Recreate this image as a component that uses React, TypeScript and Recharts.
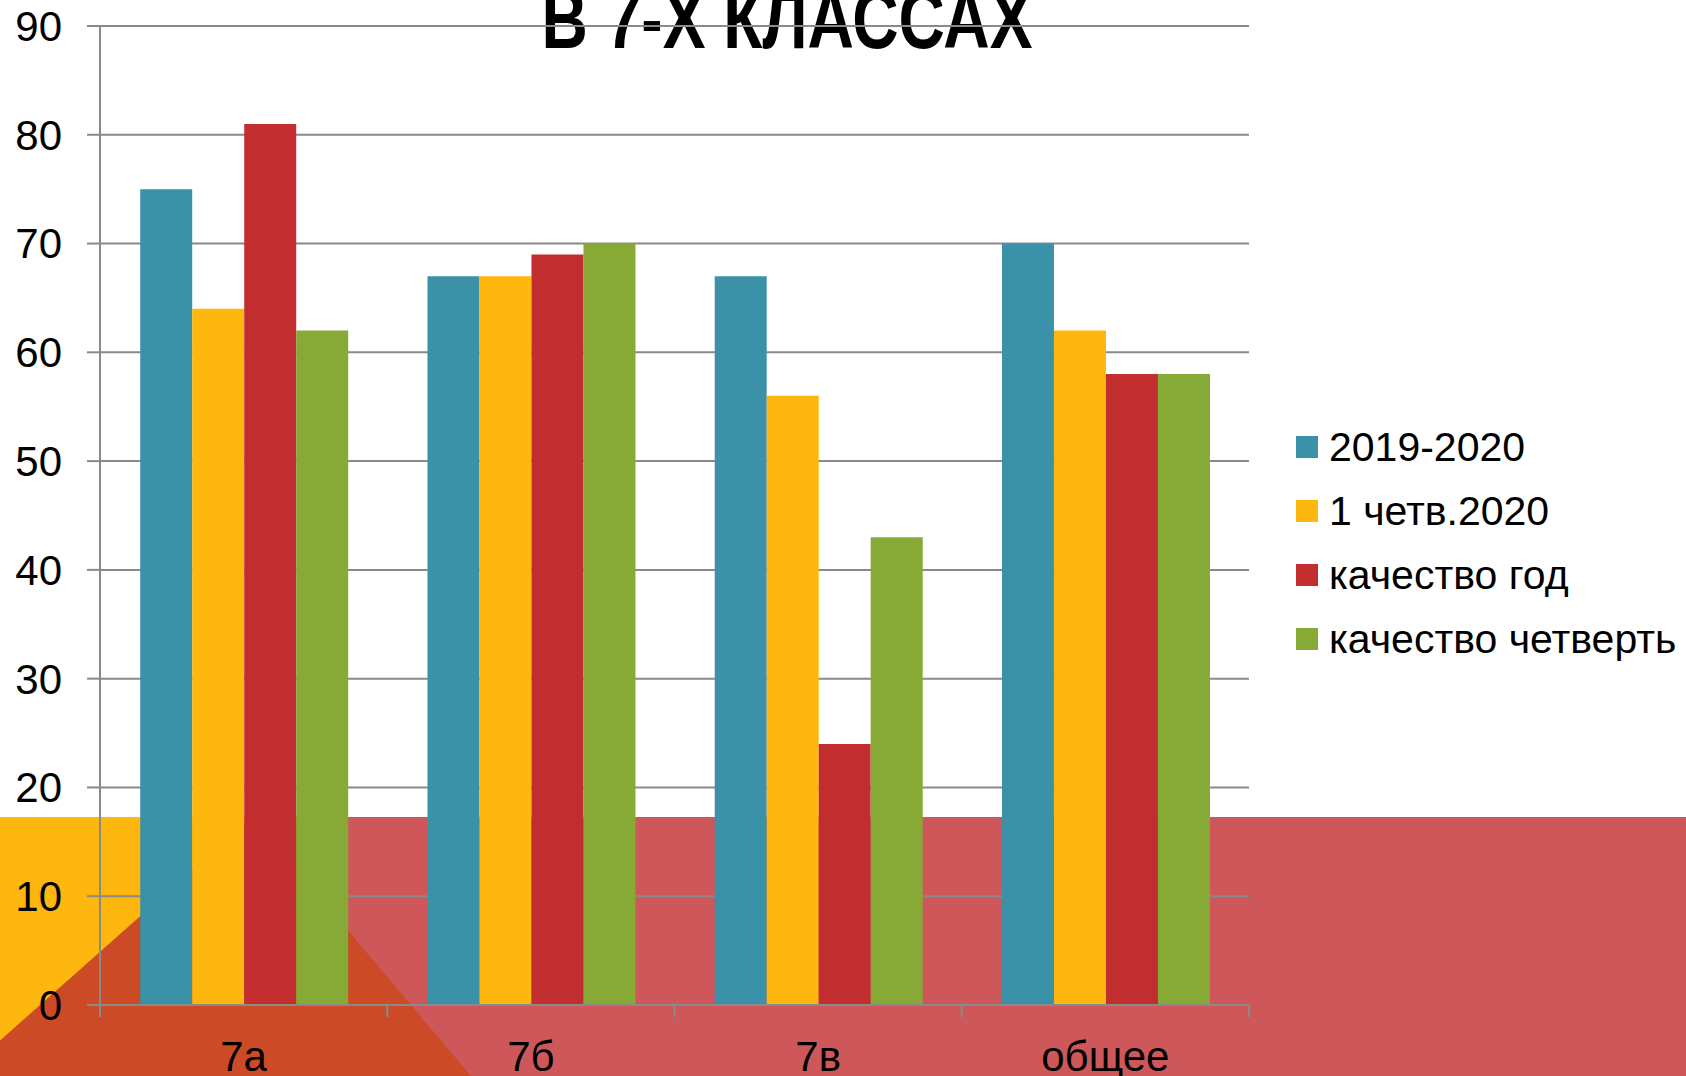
import React from 'react';
import { BarChart, Bar, XAxis, YAxis, CartesianGrid } from 'recharts';

// ---- data ----
const categories = ['7а', '7б', '7в', 'общее'];
const series2019 = [75, 67, 67, 70];
const seriesQuarter2020 = [64, 67, 56, 62];
const seriesQualityYear = [81, 69, 24, 58];
const seriesQualityQuarter = [62, 70, 43, 58];
const seriesNames = ['2019-2020', '1 четв.2020', 'качество год', 'качество четверть'];
const yTicks = [0, 10, 20, 30, 40, 50, 60, 70, 80, 90];
const titleText = 'В 7-Х КЛАССАХ';

const data = categories.map((name, i) => ({
  name,
  s0: series2019[i],
  s1: seriesQuarter2020[i],
  s2: seriesQualityYear[i],
  s3: seriesQualityQuarter[i],
}));

// ---- layout / style ----
const W = 1686;
const H = 1076;
const MARGIN = { top: 26, right: 437, bottom: 0, left: 0 };
const YAXIS_W = 100;
const XAXIS_H = 71;
const PLOT_W = W - MARGIN.left - MARGIN.right - YAXIS_W;
const HALF_BAND = PLOT_W / categories.length / 2;
const X_TICK_LEN = 12;
const X_LABEL_GAP = 24;
const GRID = '#8a8a8a';
const FONT = "'Liberation Sans', Arial, sans-serif";
const COLORS = ['#3A91A8', '#FDB70F', '#C22D30', '#87AA36'];
const SERIES_KEYS = ['s0', 's1', 's2', 's3'];

const XTick = (props: any) => {
  const { x, y, payload, index } = props;
  const axisY = y - X_TICK_LEN - X_LABEL_GAP;
  const isLast = index === categories.length - 1;
  return (
    <g>
      <line x1={x - HALF_BAND} x2={x - HALF_BAND} y1={axisY} y2={axisY + X_TICK_LEN} stroke={GRID} strokeWidth={2} />
      {isLast && (
        <line x1={x + HALF_BAND} x2={x + HALF_BAND} y1={axisY} y2={axisY + X_TICK_LEN} stroke={GRID} strokeWidth={2} />
      )}
      <text x={x} y={y} dy="0.71em" textAnchor="middle" fontSize={42} fontFamily={FONT} fill="#000">
        {payload.value}
      </text>
    </g>
  );
};

const LegendBox = () => (
  <div style={{ position: 'absolute', left: 1296, top: 415, fontFamily: FONT }}>
    {seriesNames.map((name, i) => (
      <div key={i} style={{ display: 'flex', alignItems: 'center', height: 64 }}>
        <span style={{ display: 'inline-block', width: 22, height: 22, background: COLORS[i], marginRight: 11 }} />
        <span style={{ fontSize: 41, color: '#000', whiteSpace: 'nowrap' }}>{name}</span>
      </div>
    ))}
  </div>
);

export default function App() {
  return (
    <div style={{ position: 'absolute', left: 0, top: 0, width: W, height: H, overflow: 'hidden', background: '#fff' }}>
      <svg width={W} height={H} style={{ position: 'absolute', left: 0, top: 0 }}>
        <rect x={0} y={817} width={W} height={H - 817} fill="#CE5859" />
        <rect x={0} y={817} width={252} height={H - 817} fill="#FDB70F" />
        <polygon points={`252,817 471,${H} -40,${H}`} fill="#CC4A25" />
        <text
          x={787}
          y={48}
          textAnchor="middle"
          fontSize={84}
          fontWeight="bold"
          textLength={491}
          lengthAdjust="spacingAndGlyphs"
          fontFamily="'Liberation Sans Narrow', 'Liberation Sans', Arial, sans-serif"
          fill="#000"
        >
          {titleText}
        </text>
      </svg>
      <div style={{ position: 'absolute', left: 0, top: 0 }}>
        <BarChart width={W} height={H} data={data} margin={MARGIN} barCategoryGap="14%" barGap={0}>
          <CartesianGrid vertical={false} stroke={GRID} strokeWidth={2} />
          <XAxis
            dataKey="name"
            height={XAXIS_H}
            axisLine={{ stroke: GRID, strokeWidth: 2 }}
            tickLine={false}
            tickSize={X_TICK_LEN}
            tickMargin={X_LABEL_GAP}
            tick={<XTick />}
            interval={0}
          />
          <YAxis
            width={YAXIS_W}
            domain={[0, 90]}
            ticks={yTicks}
            interval={0}
            axisLine={{ stroke: GRID, strokeWidth: 2 }}
            tickLine={{ stroke: GRID, strokeWidth: 2 }}
            tickSize={13}
            tickMargin={25}
            tick={{ fontSize: 42, fill: '#000', fontFamily: FONT }}
          />
          {SERIES_KEYS.map((k, i) => (
            <Bar key={k} dataKey={k} name={seriesNames[i]} fill={COLORS[i]} isAnimationActive={false} />
          ))}
        </BarChart>
      </div>
      <LegendBox />
    </div>
  );
}
